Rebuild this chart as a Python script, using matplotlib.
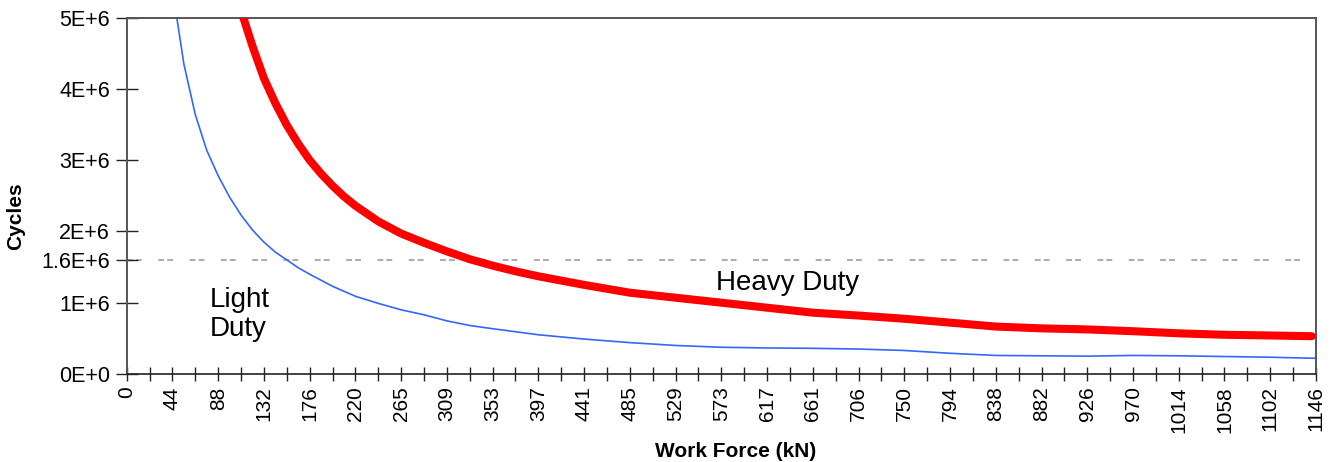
import numpy as np
import matplotlib
matplotlib.use("Agg")
import matplotlib.pyplot as plt

# ---- data ----
light_x = [44.1, 55.1, 66.1, 77.1, 88.2, 99.2, 110.2, 121.2, 132.2, 143.2, 154.3,
           165.3, 176.3, 198.4, 220.4, 242.5, 264.5, 286.6, 308.6, 330.6, 352.7,
           396.8, 440.8, 484.9, 529.0, 573.0, 617.0, 661.0, 705.0, 749.0, 793.6,
           837.6, 881.7, 925.8, 969.8, 1013.9, 1058.0, 1102.0, 1146.0]
light_y = [5.40e6, 4.35e6, 3.64e6, 3.14e6, 2.78e6, 2.48e6, 2.23e6, 2.02e6, 1.85e6, 1.71e6, 1.60e6,
           1.49e6, 1.40e6, 1.23e6, 1.09e6, 0.99e6, 0.90e6, 0.83e6, 0.745e6, 0.68e6, 0.635e6,
           0.55e6, 0.49e6, 0.44e6, 0.40e6, 0.375e6, 0.365e6, 0.36e6, 0.35e6, 0.33e6, 0.29e6,
           0.26e6, 0.255e6, 0.25e6, 0.26e6, 0.255e6, 0.245e6, 0.235e6, 0.22e6]

heavy_x = [110.2, 121.2, 132.2, 143.2, 154.3, 165.3, 176.3, 187.3, 198.4, 209.4, 220.4,
           242.5, 264.5, 286.6, 308.6, 330.6, 352.7, 374.8, 396.8, 440.8, 484.9,
           529.0, 573.0, 617.0, 661.0, 705.0, 749.0, 793.6, 837.6, 881.7, 925.8,
           969.8, 1013.9, 1058.0, 1102.0, 1142.0]
heavy_y = [5.10e6, 4.60e6, 4.15e6, 3.80e6, 3.49e6, 3.23e6, 3.00e6, 2.81e6, 2.64e6, 2.49e6, 2.36e6,
           2.14e6, 1.97e6, 1.84e6, 1.72e6, 1.61e6, 1.52e6, 1.44e6, 1.37e6, 1.25e6, 1.14e6,
           1.07e6, 1.00e6, 0.93e6, 0.86e6, 0.82e6, 0.775e6, 0.72e6, 0.665e6, 0.64e6, 0.625e6,
           0.60e6, 0.57e6, 0.55e6, 0.54e6, 0.53e6]

x_max = 1146
x_tick_labels = ["0", "44", "88", "132", "176", "220", "265", "309", "353", "397", "441",
                 "485", "529", "573", "617", "661", "706", "750", "794", "838", "882",
                 "926", "970", "1014", "1058", "1102", "1146"]
y_ticks = [0, 1e6, 1.6e6, 2e6, 3e6, 4e6, 5e6]
y_tick_labels = ["0E+0", "1E+6", "1.6E+6", "2E+6", "3E+6", "4E+6", "5E+6"]
threshold = 1.6e6

# ---- plot ----
plt.rcParams['font.family'] = ['Liberation Sans', 'DejaVu Sans']
fig = plt.figure(figsize=(13.39, 4.62), dpi=100)
ax = fig.add_axes([0.0946, 0.1905, 0.9828 - 0.0946, 0.9621 - 0.1905])

ax.axhline(threshold, color='#ababab', lw=1.4, dashes=(3.0, 1.6, 3.0, 8.5), zorder=1)
ax.plot(light_x, light_y, color='#3366ff', lw=1.2, zorder=2)
ax.plot(heavy_x, heavy_y, color='#ff0000', lw=5.8, solid_capstyle='round',
        solid_joinstyle='round', zorder=3)

ax.set_xlim(0, x_max)
ax.set_ylim(0, 5e6)

major = np.linspace(0, x_max, len(x_tick_labels))
minor = np.linspace(0, x_max, 2 * (len(x_tick_labels) - 1) + 1)
ax.set_xticks(major)
ax.set_xticklabels(x_tick_labels, rotation=90, fontsize=15)
ax.set_xticks(minor, minor=True)
ax.set_yticks(y_ticks)
ax.set_yticklabels(y_tick_labels, fontsize=15.5)

ax.tick_params(axis='x', which='both', direction='inout', length=10, width=1, color='#222222', pad=4)
ax.tick_params(axis='y', which='both', direction='inout', length=16, width=1, color='#222222', pad=4)

for s in ['top', 'right', 'left']:
    ax.spines[s].set_color('#555555')
    ax.spines[s].set_linewidth(1.4)
ax.spines['bottom'].set_color('#222222')
ax.spines['bottom'].set_linewidth(1.2)

ax.set_xlabel('Work Force (kN)', fontsize=15, fontweight='bold')
ax.set_ylabel('Cycles', fontsize=15, fontweight='bold')
ax.xaxis.set_label_coords(0.5123, -0.191)
ax.yaxis.set_label_coords(-0.0855, 0.444)

ax.text(80.4, 0.84e6, 'Light\nDuty', fontsize=20, ha='left', va='center', linespacing=1.15)
ax.text(568, 1.178e6, 'Heavy Duty', fontsize=20, ha='left', va='baseline')

fig.savefig('out.png', dpi=100)
